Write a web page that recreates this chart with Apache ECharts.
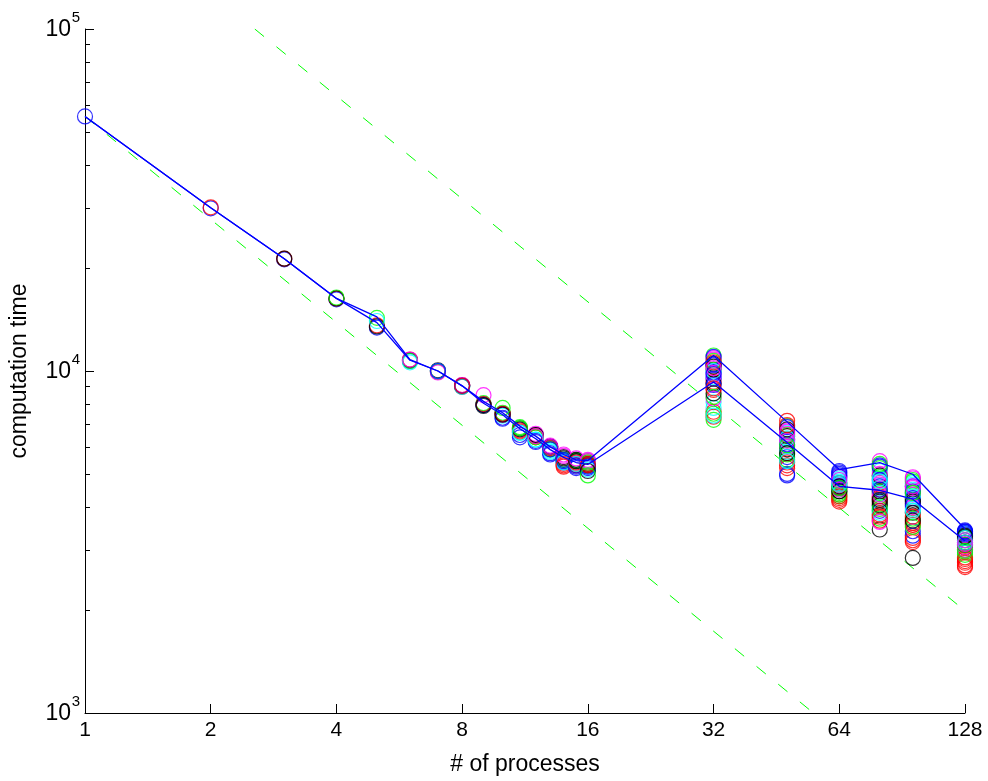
<!DOCTYPE html>
<html><head><meta charset="utf-8">
<script src="https://cdn.jsdelivr.net/npm/echarts@6/dist/echarts.min.js"></script>
<style>html,body{margin:0;padding:0;background:#fff}#c{width:988px;height:781px}</style>
</head><body><div id="c"></div>
<script>
// x tick labels (process counts shown on axis)
const xTicks = [1, 2, 4, 8, 16, 32, 64, 128];
// process counts where runs were measured
const procs = [1,2,3,4,5,6,7,8,9,10,11,12,13,14,15,16,32,48,64,80,96,128];
// per-rank computation times at each process count
const t1 = [55500];
const t2 = [29900, 30100];
const t3 = [21200, 21300, 21300];
const t4 = [16200, 16300, 16300, 16400];
const t5 = [13400, 13600, 13500, 14300, 14000];
const t6 = [10700, 10800, 10750, 10700, 10600, 10800];
const t7 = [10000, 9950, 10050, 9950, 10000, 9900, 10000];
const t8 = [9050, 9100, 9000, 9050, 9000, 9100, 9050, 9050];
const t9 = [8000, 7950, 7900, 8050, 7950, 8500, 7950, 8000, 7950];
const t10 = [7300, 7450, 7500, 7550, 7400, 7450, 7250, 7500, 7450, 7800];
const t11 = [6500, 6700, 6800, 6850, 6600, 6750, 6400, 6650, 6750, 6800, 6600];
const t12 = [6250, 6400, 6500, 6450, 6300, 6550, 6200, 6450, 6500, 6400, 6300, 6450];
const t13 = [5750, 5900, 6000, 5950, 5800, 6050, 5700, 5950, 6000, 5900, 5850, 6000, 5900];
const t14 = [5400, 5350, 5550, 5500, 5450, 5700, 5450, 5250, 5600, 5500, 5400, 5650, 5500, 5300];
const t15 = [5250, 5350, 5450, 5500, 5300, 5400, 5200, 5300, 5500, 5450, 5350, 5550, 5300, 5400, 5450];
const t16 = [5300, 5400, 5350, 5450, 5250, 5500, 5200, 5350, 5300, 5400, 5150, 5450, 5250, 5300, 5100, 4950];
const t32 = [10400, 9300, 10100, 11100, 9600, 10800, 9900, 8800, 10500, 7200, 8100, 10900, 9500, 7600, 9200, 10700,
             7800, 8300, 11000, 7350, 10300, 8400, 10000, 9700, 9100, 10600, 8600, 7500, 7400, 10200, 9800, 8900];
const t48 = [5000, 7150, 6300, 6900, 6600, 6700, 5600, 5300, 6450, 5500, 6200, 6000, 6850, 5200, 5900,
             6500, 5800, 6550, 6100, 5400, 6750, 5700, 6350, 6250, 4950, 6950, 5750, 6050, 5450, 6650];
const t64 = [5100, 4200, 4700, 4500, 4850, 4600, 5050, 4150, 4550, 4300, 4750, 4650, 4950, 4350, 4450,
             4400, 4800, 4900, 5000, 4250, 4600, 4350, 4700, 4500, 4900, 4300, 4450, 4550, 4650, 4800];
const t80 = [5300, 4100, 3440, 4900, 5100, 5450, 4600, 3800, 4450, 5200, 4000, 4700, 3900, 4300, 4950, 3700, 4550, 5000,
             4800, 3650, 4150, 4400, 3850, 4650, 5250, 4250, 4050, 3950, 4850, 4350, 4500, 3750, 4200, 5350, 4750, 3620];
const t96 = [3300, 3160, 2840, 4800, 4500, 4890, 4600, 3250, 4200, 4400, 4700, 4350, 3400, 3550, 4100, 3700, 4650, 4550,
             4250, 3200, 3850, 4750, 4300, 4000, 4450, 3600, 4150, 3500, 3950, 4850, 4050, 3750, 3650, 4400, 3900, 4600];
const t128 = [3400, 2700, 3250, 3050, 3300, 3150, 3380, 2780, 3200, 2950, 3350, 3100, 3420, 2670, 3150, 3000, 3280, 3050,
              3330, 2850, 3300, 2900, 3200, 3000, 3360, 2750, 3100, 3100, 3250, 3200, 3390, 2820, 3280, 2980, 3150, 3120];
// the two connecting blue curves
const upperLine = [55500, 30000, 21300, 16300, 14400, 10800, 10000, 9050, 8150, 7550, 6900, 6450, 6000, 5700, 5500, 5470, 11100, 7100, 5150, 5400, 4990, 3450];
const lowerLine = [55500, 30000, 21300, 16300, 13850, 10750, 10000, 9050, 8050, 7450, 6780, 6340, 5890, 5590, 5400, 5330, 9290, 6180, 4600, 4480, 4220, 3185];
// ideal-scaling reference lines (endpoints)
const ideal1 = [[1, 55500], [55.5, 1000]];
const ideal2 = [[2.55, 100000], [128, 1990]];

const groups = [t1,t2,t3,t4,t5,t6,t7,t8,t9,t10,t11,t12,t13,t14,t15,t16,t32,t48,t64,t80,t96,t128];
const palette = ['#0000ff', '#ff0000', '#000000', '#00ff00', '#00ffff', '#ff00ff'];

const scatterData = [];
groups.forEach((g, gi) => {
  g.forEach((v, i) => {
    scatterData.push({ value: [procs[gi], v], itemStyle: { color: 'rgba(0,0,0,0)', borderColor: palette[i % 6], borderWidth: 1.2 } });
  });
});

const FF = '"Liberation Sans", Arial, Helvetica, sans-serif';
const chart = echarts.init(document.getElementById('c'), null, { renderer: 'canvas' });
chart.setOption({
  animation: false,
  backgroundColor: '#fff',
  grid: { left: 85, right: 23, top: 29, bottom: 64, containLabel: false },
  xAxis: {
    type: 'log', logBase: 2, min: 1, max: 128, splitNumber: 7,
    axisLine: { lineStyle: { color: '#000', width: 1 } },
    axisTick: { inside: true, length: 9, lineStyle: { color: '#000' } },
    axisLabel: { color: '#000', fontSize: 21, fontFamily: FF, margin: 7, showMinLabel: true, showMaxLabel: true },
    splitLine: { show: false },
    name: '# of processes', nameLocation: 'middle', nameGap: 40,
    nameTextStyle: { color: '#000', fontSize: 23, fontFamily: FF }
  },
  yAxis: {
    type: 'log', logBase: 10, min: 1000, max: 100000, splitNumber: 2,
    axisLine: { lineStyle: { color: '#000', width: 1 } },
    axisTick: { inside: true, length: 9, lineStyle: { color: '#000' } },
    minorTick: { show: true, splitNumber: 9, length: 5, lineStyle: { color: '#000' } },
    axisLabel: {
      color: '#000', fontFamily: FF, margin: 5, showMinLabel: true, showMaxLabel: true,
      formatter: v => '{s|' + Math.round(Math.log10(v)) + '}\n{b|10}{g| }',
      rich: {
        s: { fontSize: 15, lineHeight: 2, fontFamily: FF, color: '#000' },
        b: { fontSize: 23, lineHeight: 22, fontFamily: FF, color: '#000' },
        g: { fontSize: 15, lineHeight: 22, width: 9, fontFamily: FF, color: '#000' }
      }
    },
    splitLine: { show: false },
    name: 'computation time', nameLocation: 'middle', nameGap: 54, nameRotate: 90,
    nameTextStyle: { color: '#000', fontSize: 23, fontFamily: FF }
  },
  series: [
    { type: 'line', data: ideal1, showSymbol: false, symbol: 'none', silent: true,
      lineStyle: { color: '#00ff00', width: 1, type: [12, 16] }, z: 1 },
    { type: 'line', data: ideal2, showSymbol: false, symbol: 'none', silent: true,
      lineStyle: { color: '#00ff00', width: 1, type: [12, 16] }, z: 1 },
    { type: 'scatter', data: scatterData, symbol: 'circle', symbolSize: 15, z: 2 },
    { type: 'line', data: procs.map((p, i) => [p, upperLine[i]]), showSymbol: false, symbol: 'none',
      lineStyle: { color: '#0000ff', width: 1.3 }, z: 3 },
    { type: 'line', data: procs.map((p, i) => [p, lowerLine[i]]), showSymbol: false, symbol: 'none',
      lineStyle: { color: '#0000ff', width: 1.3 }, z: 3 }
  ]
});
</script>
</body></html>
